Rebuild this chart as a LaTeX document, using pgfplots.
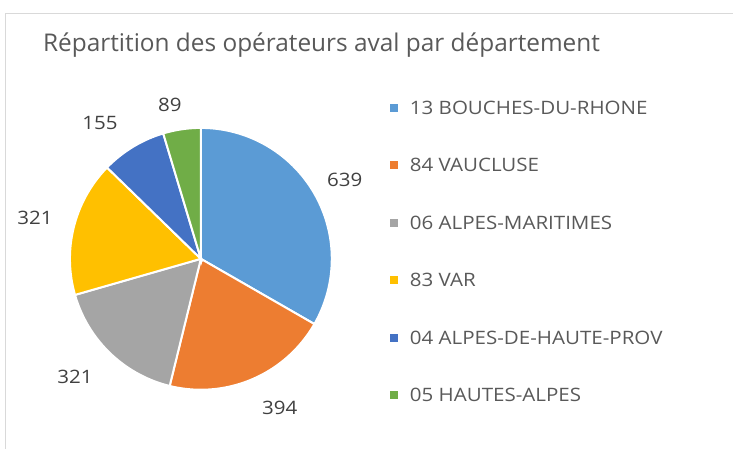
\documentclass[border=0pt]{standalone}
\usepackage{pgfplots}
\pgfplotsset{compat=1.18}
\usepackage{pgfplotstable}
\usepackage{fontspec}
\setmainfont{Open Sans}
\newfontfamily\widefont[FakeStretch=1.11]{Open Sans}

\definecolor{cBlue}{HTML}{5B9BD5}
\definecolor{cOrange}{HTML}{ED7D31}
\definecolor{cGray}{HTML}{A5A5A5}
\definecolor{cYellow}{HTML}{FFC000}
\definecolor{cDBlue}{HTML}{4472C4}
\definecolor{cGreen}{HTML}{70AD47}
\definecolor{txt}{HTML}{595959}
\definecolor{lbl}{HTML}{404040}
\definecolor{frame}{HTML}{D9D9D9}

\pgfplotstableread{
value
639
394
321
321
155
89
}\piedata

\pgfplotstablegetelem{0}{value}\of\piedata \let\vA\pgfplotsretval
\pgfplotstablegetelem{1}{value}\of\piedata \let\vB\pgfplotsretval
\pgfplotstablegetelem{2}{value}\of\piedata \let\vC\pgfplotsretval
\pgfplotstablegetelem{3}{value}\of\piedata \let\vD\pgfplotsretval
\pgfplotstablegetelem{4}{value}\of\piedata \let\vE\pgfplotsretval
\pgfplotstablegetelem{5}{value}\of\piedata \let\vF\pgfplotsretval
\pgfmathsetmacro\tot{\vA+\vB+\vC+\vD+\vE+\vF}
\pgfmathsetmacro\aA{90}
\pgfmathsetmacro\aB{\aA-360*(\vA/\tot)}
\pgfmathsetmacro\aC{\aB-360*(\vB/\tot)}
\pgfmathsetmacro\aD{\aC-360*(\vC/\tot)}
\pgfmathsetmacro\aE{\aD-360*(\vD/\tot)}
\pgfmathsetmacro\aF{\aE-360*(\vE/\tot)}
\pgfmathsetmacro\aG{\aF-360*(\vF/\tot)}

\begin{document}
\begin{tikzpicture}
\begin{axis}[
  width=733pt, height=449pt, scale only axis,
  xmin=0, xmax=733, ymin=0, ymax=449,
  hide axis, clip=false,
  legend style={at={(axis cs:390,347.5)}, anchor=north west, draw=none, fill=none,
    font=\widefont\fontsize{18.5}{22}\selectfont, text=txt, row sep=44.4pt, column sep=12pt,
    cells={anchor=west}, inner sep=0pt,
    nodes={inner sep=0pt, text height=13pt, text depth=0pt}},
  legend image code/.code={\fill[#1,draw=none] (0pt,-4pt) rectangle (8pt,4pt);},
  every axis plot/.append style={draw=white, line width=2pt, samples=90},
]
\path (rel axis cs:0,0) rectangle (rel axis cs:1,1);
\draw[frame, line width=1pt] (axis cs:6,0) -- (axis cs:6,435) -- (axis cs:733,435);

\addplot[fill=cBlue, domain=\aB:\aA] ({201+131*cos(x)},{190+131*sin(x)}) -- (axis cs:201,190) -- cycle;
\addlegendentry{13 BOUCHES-DU-RHONE}
\addplot[fill=cOrange, domain=\aC:\aB] ({201+131*cos(x)},{190+131*sin(x)}) -- (axis cs:201,190) -- cycle;
\addlegendentry{84 VAUCLUSE}
\addplot[fill=cGray, domain=\aD:\aC] ({201+131*cos(x)},{190+131*sin(x)}) -- (axis cs:201,190) -- cycle;
\addlegendentry{06 ALPES-MARITIMES}
\addplot[fill=cYellow, domain=\aE:\aD] ({201+131*cos(x)},{190+131*sin(x)}) -- (axis cs:201,190) -- cycle;
\addlegendentry{83 VAR}
\addplot[fill=cDBlue, domain=\aF:\aE] ({201+131*cos(x)},{190+131*sin(x)}) -- (axis cs:201,190) -- cycle;
\addlegendentry{04 ALPES-DE-HAUTE-PROV}
\addplot[fill=cGreen, domain=\aG:\aF] ({201+131*cos(x)},{190+131*sin(x)}) -- (axis cs:201,190) -- cycle;
\addlegendentry{05 HAUTES-ALPES}

\begin{scope}[every node/.style={font=\widefont\fontsize{18.5}{22}\selectfont, text=lbl}]
\node at (axis cs:345,269) {639};
\node at (axis cs:280,41) {394};
\node at (axis cs:75,72) {321};
\node at (axis cs:35,231) {321};
\node at (axis cs:100,326) {155};
\node at (axis cs:170,344) {89};
\end{scope}
\node[anchor=west, font=\fontsize{24.4}{29}\selectfont, text=txt, inner sep=0pt] at (axis cs:43,404) {Répartition des opérateurs aval par département};
\end{axis}
\end{tikzpicture}
\end{document}
